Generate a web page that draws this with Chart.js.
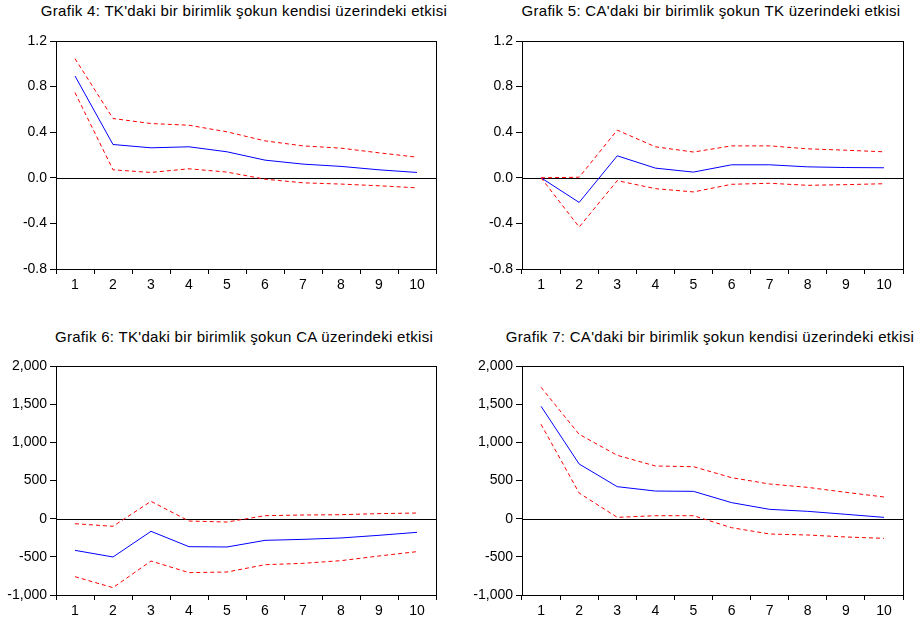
<!DOCTYPE html>
<html>
<head>
<meta charset="utf-8">
<script src="https://cdn.jsdelivr.net/npm/chart.js@4.4.1/dist/chart.umd.min.js"></script>
<style>
  html, body { margin: 0; padding: 0; background: #fff; }
  body { width: 919px; height: 620px; position: relative; overflow: hidden; font-family: "Liberation Sans", Arial, sans-serif; }
  .title { position: absolute; font-size: 15px; letter-spacing: 0.3px; color: #000; text-align: center; white-space: nowrap; line-height: 18px; }
  .panel { position: absolute; }
</style>
</head>
<body>
<div class="title" style="left:0; top:2px; width:488px;">Grafik 4: TK'daki bir birimlik şokun kendisi üzerindeki etkisi</div>
<div class="title" style="left:459px; top:2px; width:504px;">Grafik 5: CA'daki bir birimlik şokun TK üzerindeki etkisi</div>
<div class="title" style="left:0; top:328px; width:488px;">Grafik 6: TK'daki bir birimlik şokun CA üzerindeki etkisi</div>
<div class="title" style="left:459px; top:328px; width:502px;">Grafik 7: CA'daki bir birimlik şokun kendisi üzerindeki etkisi</div>

<div class="panel" style="left:0; top:25px;"><canvas id="g4" width="459" height="280"></canvas></div>
<div class="panel" style="left:459px; top:25px;"><canvas id="g5" width="460" height="280"></canvas></div>
<div class="panel" style="left:0; top:345px;"><canvas id="g6" width="459" height="275"></canvas></div>
<div class="panel" style="left:459px; top:345px;"><canvas id="g7" width="460" height="275"></canvas></div>

<script>
// Dönemler (x ekseni)
const periods = ['1', '2', '3', '4', '5', '6', '7', '8', '9', '10'];

// Grafik 4: TK -> TK
const g4Resp  = [0.893, 0.292, 0.263, 0.272, 0.228, 0.155, 0.120, 0.100, 0.070, 0.047];
const g4Upper = [1.045, 0.520, 0.476, 0.461, 0.403, 0.324, 0.280, 0.260, 0.219, 0.181];
const g4Lower = [0.747, 0.070, 0.047, 0.079, 0.050, -0.012, -0.044, -0.055, -0.070, -0.088];

// Grafik 5: CA -> TK
const g5Resp  = [0.000, -0.216, 0.193, 0.085, 0.050, 0.114, 0.114, 0.096, 0.090, 0.088];
const g5Upper = [0.000, 0.005, 0.418, 0.272, 0.226, 0.280, 0.280, 0.254, 0.242, 0.228];
const g5Lower = [0.000, -0.432, -0.025, -0.095, -0.124, -0.057, -0.048, -0.066, -0.060, -0.052];

// Grafik 6: TK -> CA
const g6Resp  = [-415, -502, -166, -367, -371, -284, -271, -253, -218, -179];
const g6Upper = [-66, -100, 227, -31, -44, 39, 48, 52, 66, 74];
const g6Lower = [-760, -904, -555, -707, -699, -603, -585, -550, -489, -432];

// Grafik 7: CA -> CA
const g7Resp  = [1472, 716, 419, 362, 358, 210, 122, 96, 57, 17];
const g7Upper = [1721, 1105, 830, 690, 681, 537, 454, 410, 345, 284];
const g7Lower = [1236, 336, 17, 39, 39, -118, -201, -214, -240, -258];

// Eksen aralıkları
const smallAxis = { min: -0.8, max: 1.2, step: 0.4 };
const bigAxis = { min: -1000, max: 2000, step: 500 };

// Çerçeve ve sıfır çizgisi
const framePlugin = {
    id: 'frame',
    beforeDatasetsDraw(chart) {
        const { ctx, chartArea, scales } = chart;
        const y0 = Math.round(scales.y.getPixelForValue(0)) + 0.5;
        ctx.save();
        ctx.strokeStyle = '#000';
        ctx.lineWidth = 1;
        ctx.beginPath();
        ctx.moveTo(chartArea.left, y0);
        ctx.lineTo(chartArea.right, y0);
        ctx.stroke();
        ctx.restore();
    },
    afterDraw(chart) {
        const { ctx, chartArea } = chart;
        ctx.save();
        ctx.strokeStyle = '#000';
        ctx.lineWidth = 1;
        ctx.strokeRect(Math.round(chartArea.left) + 0.5, Math.round(chartArea.top) + 0.5,
            Math.round(chartArea.right - chartArea.left), Math.round(chartArea.bottom - chartArea.top));
        ctx.restore();
    }
};

function makePanel(id, resp, upper, lower, axis, fmt, box) {
    const canvas = document.getElementById(id);
    const ctx = canvas.getContext('2d');
    const band = (data) => ({
        data: data,
        borderColor: '#FF0000',
        borderWidth: 1,
        borderDash: [4, 3],
        pointRadius: 0,
        tension: 0,
        fill: false
    });
    return new Chart(ctx, {
        type: 'line',
        data: {
            labels: periods,
            datasets: [
                band(upper),
                band(lower),
                { data: resp, borderColor: '#0000FF', borderWidth: 1, pointRadius: 0, tension: 0, fill: false }
            ]
        },
        options: {
            responsive: false,
            animation: false,
            layout: { padding: { top: box.top, right: box.right, left: 0, bottom: 0 } },
            plugins: { legend: { display: false }, tooltip: { enabled: false } },
            scales: {
                x: {
                    type: 'category',
                    offset: true,
                    afterFit: (s) => { s.height = box.bottom; },
                    grid: { offset: true, drawOnChartArea: false, drawTicks: true, tickLength: 5, color: '#000' },
                    border: { display: true, color: '#000' },
                    ticks: { color: '#000', padding: 3, maxRotation: 0, font: { family: 'Liberation Sans', size: 14 } }
                },
                y: {
                    min: axis.min,
                    max: axis.max,
                    afterFit: (s) => { s.width = box.left; },
                    grid: { drawOnChartArea: false, drawTicks: true, tickLength: 6, color: '#000' },
                    border: { display: true, color: '#000' },
                    ticks: { stepSize: axis.step, color: '#000', padding: 3, callback: fmt, font: { family: 'Liberation Sans', size: 14 } }
                }
            }
        },
        plugins: [framePlugin]
    });
}

const fmtDec = (v) => (Math.abs(v) < 1e-9 ? '0.0' : Number(v).toFixed(1));
const fmtInt = (v) => Math.round(v).toLocaleString('en-US');

makePanel('g4', g4Resp, g4Upper, g4Lower, smallAxis, fmtDec, { left: 56, top: 16, right: 23, bottom: 36 });
makePanel('g5', g5Resp, g5Upper, g5Lower, smallAxis, fmtDec, { left: 63, top: 16, right: 16, bottom: 36 });
makePanel('g6', g6Resp, g6Upper, g6Lower, bigAxis, fmtInt, { left: 56, top: 21, right: 23, bottom: 25 });
makePanel('g7', g7Resp, g7Upper, g7Lower, bigAxis, fmtInt, { left: 63, top: 21, right: 16, bottom: 25 });
</script>
</body>
</html>
